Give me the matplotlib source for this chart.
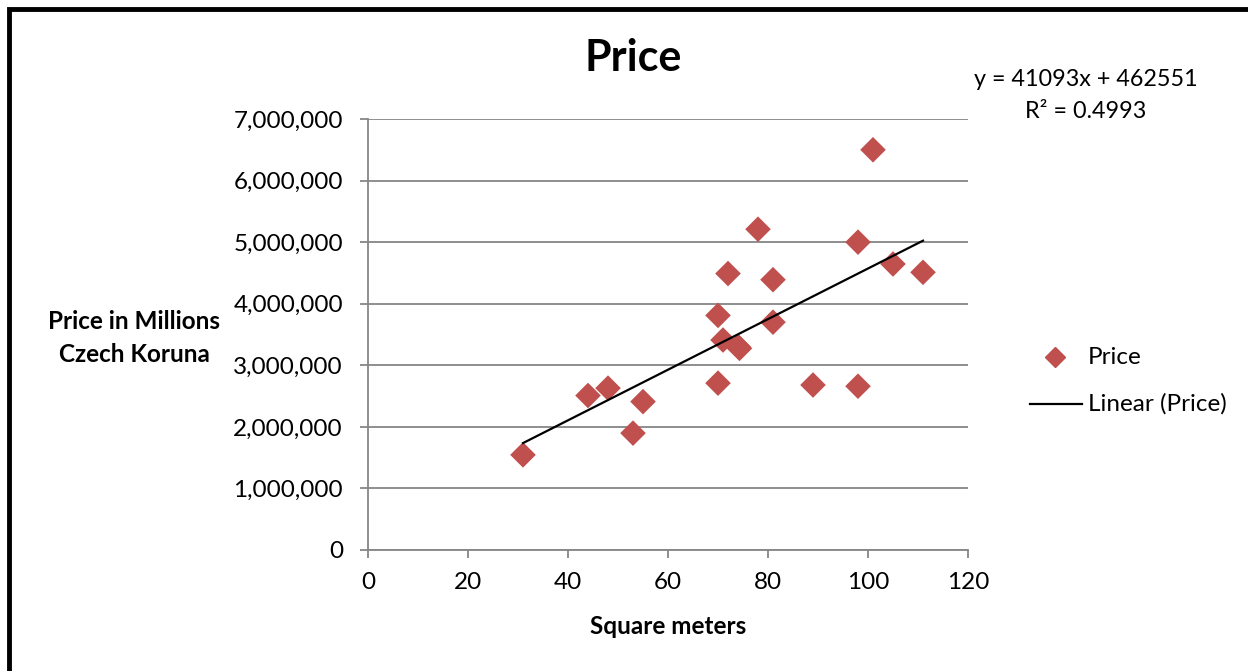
import matplotlib
matplotlib.use("Agg")
import matplotlib.pyplot as plt
from matplotlib.patches import Rectangle
from matplotlib.lines import Line2D
from matplotlib.ticker import FuncFormatter
import numpy as np

plt.rcParams['font.family'] = ['Lato', 'DejaVu Sans']

square_meters = [31, 44, 48, 53, 55, 70, 70, 71, 72, 74, 74.3, 78, 81, 81, 89, 98, 98, 101, 105, 111]
prices = [1545000, 2509000, 2629000, 1898000, 2410000, 3810000, 2710000, 3410000, 4490000,
          3306000, 3275000, 5210000, 4390000, 3700000, 2680000, 5000000, 2660000, 6500000,
          4645000, 4510000]
slope = 41093
intercept = 462551
r_squared = 0.4993
x_ticks = [0, 20, 40, 60, 80, 100, 120]
y_ticks = [0, 1000000, 2000000, 3000000, 4000000, 5000000, 6000000, 7000000]

W, H = 1248, 671
fig = plt.figure(figsize=(W / 100, H / 100), dpi=100)
ax = fig.add_axes([368 / W, 1 - 550 / H, 600 / W, 431 / H])

grid_c = '#868686'
red = '#C0504D'
fs = 17.5

ax.set_xlim(0, 120)
ax.set_ylim(0, 7000000)
ax.set_xticks(x_ticks)
ax.set_yticks(y_ticks)
ax.yaxis.set_major_formatter(FuncFormatter(lambda v, p: f"{int(v):,}"))
ax.grid(axis='y', color=grid_c, linewidth=1.3)
ax.set_axisbelow(True)
for s in ['top', 'right']:
    ax.spines[s].set_visible(False)
for s in ['left', 'bottom']:
    ax.spines[s].set_color(grid_c)
    ax.spines[s].set_linewidth(1.3)
ax.tick_params(axis='both', colors=grid_c, labelcolor='black', labelsize=fs, length=6, width=1.3)
ax.tick_params(axis='y', pad=12)
ax.tick_params(axis='x', pad=10)

ax.scatter(square_meters, prices, marker='D', s=170, color=red, edgecolors='none', zorder=3)
xs = np.array([min(square_meters), max(square_meters)])
ax.plot(xs, slope * xs + intercept, color='black', linewidth=1.6, zorder=4)

fig.text(668 / W, 1 - 626 / H, 'Square meters', ha='center', va='center', fontsize=fs, fontweight='bold')
fig.text(134 / W, 1 - 338 / H, 'Price in Millions\nCzech Koruna', ha='center', va='center',
         fontsize=fs, fontweight='bold', linespacing=1.55)
fig.text(633 / W, 1 - 58 / H, 'Price', ha='center', va='center', fontsize=31, fontweight='bold')
fig.text(1086 / W, 1 - 80 / H, f'y = {slope}x + {intercept}', ha='center', va='center', fontsize=16.8)
fig.text(1086 / W, 1 - 112 / H, f'R² = {r_squared}', ha='center', va='center', fontsize=16.8)

# legend
fig.add_artist(Line2D([1055 / W], [1 - 357 / H], marker='D', markersize=10, color=red,
                      linestyle='none', transform=fig.transFigure))
fig.text(1088 / W, 1 - 357 / H, 'Price', ha='left', va='center', fontsize=fs)
fig.add_artist(Line2D([1030 / W, 1082 / W], [1 - 404 / H, 1 - 404 / H], color='black',
                      linewidth=1.6, transform=fig.transFigure))
fig.text(1088 / W, 1 - 404 / H, 'Linear (Price)', ha='left', va='center', fontsize=fs)

# outer frame
fig.add_artist(Rectangle((9 / W, -0.05), 1.1, 1 - 8.5 / H + 0.05, transform=fig.transFigure,
                         fill=False, edgecolor='black', linewidth=3.5, clip_on=False))

fig.savefig('out.png', dpi=100)
